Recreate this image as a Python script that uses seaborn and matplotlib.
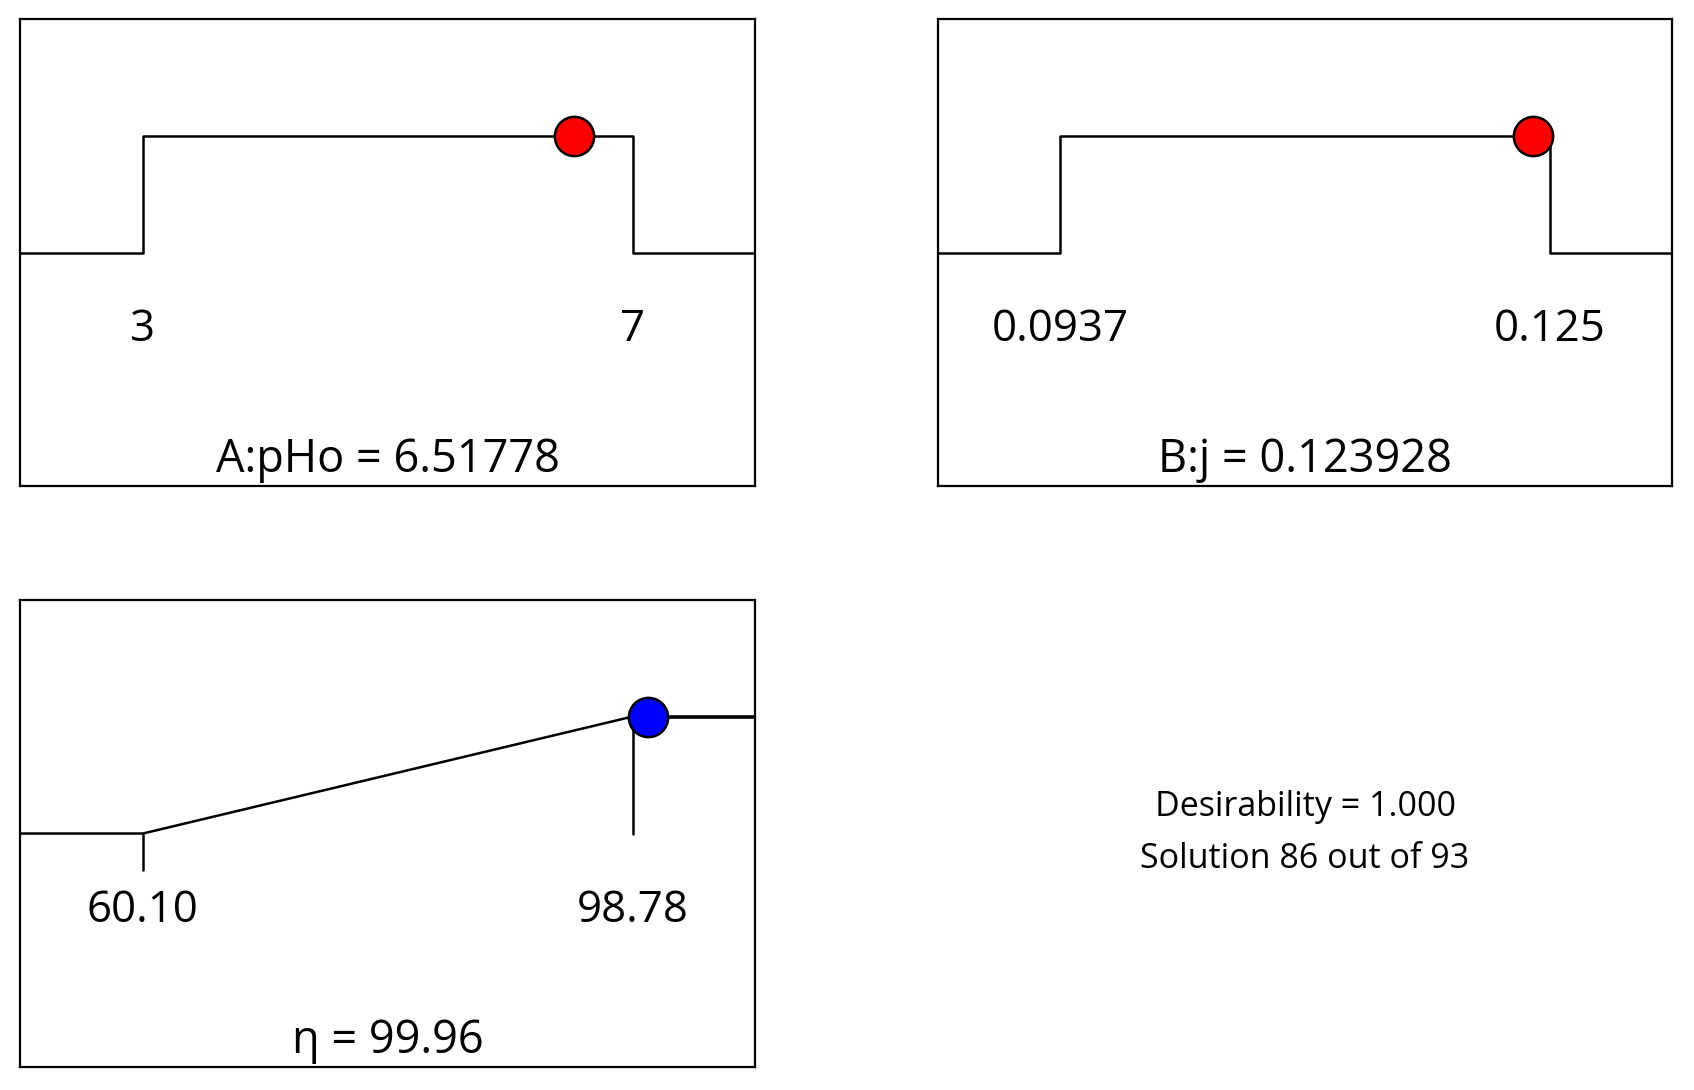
import matplotlib
matplotlib.use("Agg")
import matplotlib.pyplot as plt
import seaborn as sns
import pandas as pd

sns.set_theme(style="white")
plt.rcParams["font.family"] = ["Open Sans", "DejaVu Sans"]
plt.rcParams["text.color"] = "black"

# factor ramps (in range) and response ramp (maximize)
factor_names = ["A:pHo", "B:j"]
factor_low = [3, 0.0937]
factor_high = [7, 0.125]
factor_value = [6.51778, 0.123928]
factor_value_txt = ["6.51778", "0.123928"]
factor_low_txt = ["3", "0.0937"]
factor_high_txt = ["7", "0.125"]

resp_name = "η"
resp_low = 60.10
resp_high = 98.78
resp_value = 99.96
resp_value_txt = "99.96"
resp_low_txt = "60.10"
resp_high_txt = "98.78"

desirability = 1.000
solution_no = 86
solution_total = 93

fig = plt.figure(figsize=(16.94, 10.9), dpi=100)
axes_pos = [
    [0.0121, 0.5541, 0.4336, 0.4281],
    [0.5536, 0.5541, 0.4337, 0.4281],
    [0.0121, 0.0207, 0.4336, 0.4292],
]

def setup(ax, lo, hi):
    pad = (hi - lo) / 4
    ax.set_xlim(lo - pad, hi + pad)
    ax.set_ylim(-2, 2)
    ax.set_xticks([])
    ax.set_yticks([])
    for s in ax.spines.values():
        s.set_visible(True)
        s.set_color("black")
        s.set_linewidth(1.6)
    return lo - pad, hi + pad

def labels(ax, lo, hi, lo_txt, hi_txt, title):
    ax.text(lo, -0.76, lo_txt, ha="center", va="baseline", fontsize=31.5)
    ax.text(hi, -0.76, hi_txt, ha="center", va="baseline", fontsize=31.5)
    ax.text((ax.get_xlim()[0] + ax.get_xlim()[1]) / 2, -1.88, title,
            ha="center", va="baseline", fontsize=32.5)

for i in range(2):
    ax = fig.add_axes(axes_pos[i])
    lo, hi = factor_low[i], factor_high[i]
    xmin, xmax = setup(ax, lo, hi)
    df = pd.DataFrame({"x": [xmin, lo, lo, hi, hi, xmax],
                       "y": [0, 0, 1, 1, 0, 0]})
    sns.lineplot(data=df, x="x", y="y", ax=ax, sort=False, estimator=None,
                 color="black", linewidth=1.8)
    sns.scatterplot(x=[factor_value[i]], y=[1], ax=ax, s=800, color="red",
                    edgecolor="black", linewidth=1.8, zorder=5)
    ax.set_xlabel("")
    ax.set_ylabel("")
    labels(ax, lo, hi, factor_low_txt[i], factor_high_txt[i],
           f"{factor_names[i]} = {factor_value_txt[i]}")

ax = fig.add_axes(axes_pos[2])
xmin, xmax = setup(ax, resp_low, resp_high)
ramp = pd.DataFrame({"x": [xmin, resp_low, resp_high], "y": [0, 0, 1]})
sns.lineplot(data=ramp, x="x", y="y", ax=ax, sort=False, estimator=None,
             color="black", linewidth=1.8)
top = pd.DataFrame({"x": [resp_high, xmax], "y": [1, 1]})
sns.lineplot(data=top, x="x", y="y", ax=ax, sort=False, estimator=None,
             color="black", linewidth=2.6)
ax.plot([resp_low, resp_low], [0, -0.31], color="black", linewidth=1.8)
ax.plot([resp_high, resp_high], [1, 0], color="black", linewidth=1.8)
sns.scatterplot(x=[resp_value], y=[1], ax=ax, s=800, color="blue",
                edgecolor="black", linewidth=1.8, zorder=5)
ax.set_xlabel("")
ax.set_ylabel("")
labels(ax, resp_low, resp_high, resp_low_txt, resp_high_txt,
       f"{resp_name} = {resp_value_txt}")

fig.text(0.7704, 1 - 807 / 1090, f"Desirability = {desirability:.3f}",
         ha="center", va="center", fontsize=24.5)
fig.text(0.7704, 1 - 859 / 1090, f"Solution {solution_no} out of {solution_total}",
         ha="center", va="center", fontsize=24.5)

fig.savefig("out.png", dpi=100, facecolor="white")
